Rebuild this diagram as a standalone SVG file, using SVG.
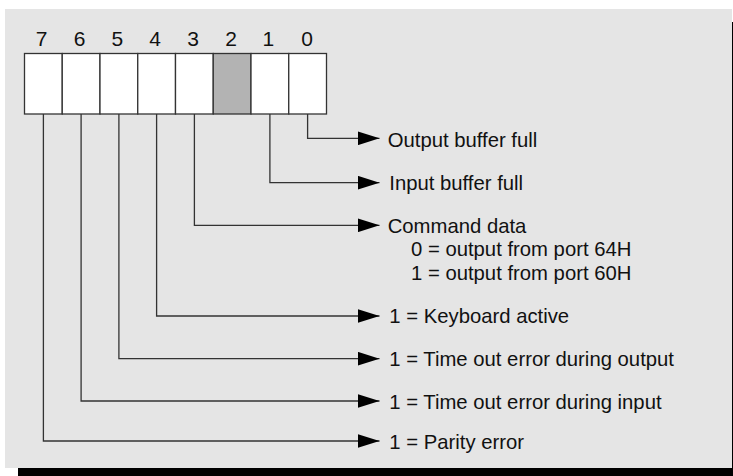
<svg xmlns="http://www.w3.org/2000/svg" width="733" height="476" viewBox="0 0 733 476">
<style>
.cell{fill:#ffffff;stroke:#333333;stroke-width:1.3}
.shade{fill:#b3b3b3}
.num{font-family:"Liberation Sans",Arial,sans-serif;font-size:21px;fill:#111111;text-anchor:middle}
.lbl{font-family:"Liberation Sans",Arial,sans-serif;font-size:20.3px;fill:#111111}
.wire{fill:none;stroke:#333333;stroke-width:1.3}
</style>
<defs>
<marker id="ah" viewBox="0 0 22 14" refX="22" refY="7" markerWidth="22" markerHeight="14" markerUnits="userSpaceOnUse" orient="auto">
<path d="M0,0 L22,7 L0,14 Z" fill="#000000"/>
</marker>
</defs>
<rect x="0" y="0" width="733" height="476" fill="#ffffff"/>
<rect x="18" y="22" width="715" height="454" fill="#000000"/>
<rect x="5" y="9" width="727" height="459" fill="#e5e5e5"/>
<g id="register">
<g id="bit7"><rect class="cell" x="24.5" y="53.5" width="37.75" height="60.5"/><text class="num" x="41.5" y="46">7</text></g>
<g id="bit6"><rect class="cell" x="62.25" y="53.5" width="37.75" height="60.5"/><text class="num" x="79.7" y="46">6</text></g>
<g id="bit5"><rect class="cell" x="100" y="53.5" width="37.75" height="60.5"/><text class="num" x="117.4" y="46">5</text></g>
<g id="bit4"><rect class="cell" x="137.75" y="53.5" width="37.75" height="60.5"/><text class="num" x="155.2" y="46">4</text></g>
<g id="bit3"><rect class="cell" x="175.5" y="53.5" width="37.75" height="60.5"/><text class="num" x="193" y="46">3</text></g>
<g id="bit2"><rect class="cell shade" x="213.25" y="53.5" width="37.75" height="60.5"/><text class="num" x="231" y="46">2</text></g>
<g id="bit1"><rect class="cell" x="251" y="53.5" width="37.75" height="60.5"/><text class="num" x="268.4" y="46">1</text></g>
<g id="bit0"><rect class="cell" x="288.75" y="53.5" width="37.75" height="60.5"/><text class="num" x="307" y="46">0</text></g>
</g>
<g id="connectors">
<path class="wire" d="M307.6,114 V138.3 H379.5" marker-end="url(#ah)"/>
<path class="wire" d="M269.9,114 V182.7 H379.5" marker-end="url(#ah)"/>
<path class="wire" d="M194.4,114 V225.3 H379.5" marker-end="url(#ah)"/>
<path class="wire" d="M156.6,114 V316 H379.5" marker-end="url(#ah)"/>
<path class="wire" d="M118.9,114 V358.7 H379.5" marker-end="url(#ah)"/>
<path class="wire" d="M81.1,114 V401 H379.5" marker-end="url(#ah)"/>
<path class="wire" d="M43.4,114 V441 H379.5" marker-end="url(#ah)"/>
</g>
<g id="labels">
<text class="lbl" x="387.7" y="146.5">Output buffer full</text>
<text class="lbl" x="389.3" y="190">Input buffer full</text>
<text class="lbl" x="387.7" y="232.7">Command data</text>
<text class="lbl" x="411" y="256.3">0 = output from port 64H</text>
<text class="lbl" x="411" y="280">1 = output from port 60H</text>
<text class="lbl" x="389.3" y="323.3">1 = Keyboard active</text>
<text class="lbl" x="389.3" y="366">1 = Time out error during output</text>
<text class="lbl" x="389.3" y="408.5">1 = Time out error during input</text>
<text class="lbl" x="389.3" y="448.5">1 = Parity error</text>
</g>
</svg>
